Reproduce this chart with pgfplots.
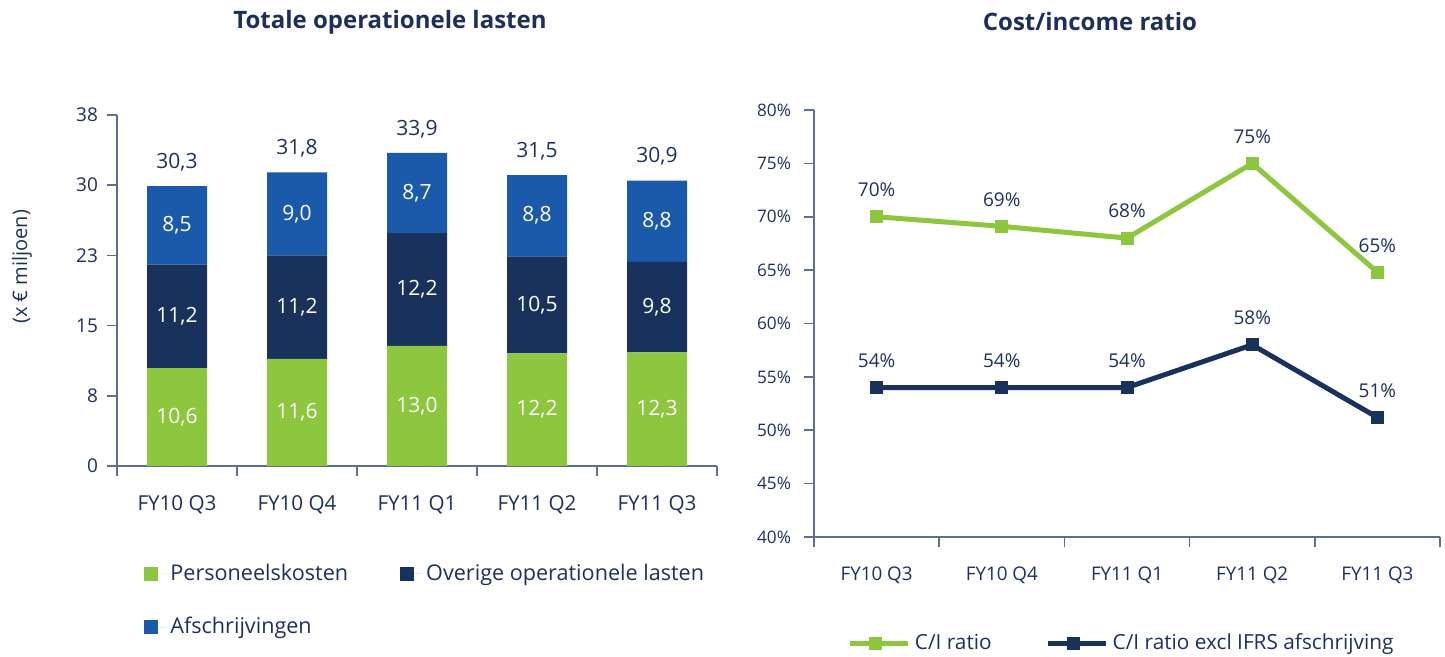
\documentclass[border=0pt]{standalone}
\usepackage{pgfplots}
\pgfplotsset{compat=1.18}
\usepackage{pgfplotstable}
\usepackage{fontspec}
\setmainfont{Open Sans}
\definecolor{cgreen}{RGB}{141,198,63}
\definecolor{cnavy}{RGB}{24,50,92}
\definecolor{cblue}{RGB}{27,90,170}
\definecolor{ctext}{RGB}{30,48,88}
\definecolor{caxis}{RGB}{95,110,140}

\pgfplotstableread{
x p o a tot
0 10.6 11.2 8.5 30.3
1 11.6 11.2 9.0 31.8
2 13.0 12.2 8.7 33.9
3 12.2 10.5 8.8 31.5
4 12.3 9.8 8.8 30.9
}\costs

\pgfplotstableread{
x ci ciex
0 70.0 54.0
1 69.1 54.0
2 68.0 54.0
3 75.0 58.0
4 64.8 51.2
}\ratio

\pgfplotsset{
  base/.style={
    scale only axis, anchor=south west,
    axis lines=left, axis line style={-, draw=caxis, line width=0.8pt},
    xmin=-0.5, xmax=4.5,
    xtick={-0.5,0.5,...,4.5}, xticklabels={},
    extra x ticks={0,1,2,3,4},
    extra x tick labels={FY10 Q3,FY10 Q4,FY11 Q1,FY11 Q2,FY11 Q3},
    extra x tick style={major tick length=0pt},
    tick align=outside, major tick length=5pt,
    tick style={draw=caxis, line width=0.8pt},
    ticklabel style={text=ctext},
    clip=false,
  },
  lab/.style={
    scale only axis, anchor=south west, hide axis,
    xmin=-0.5, xmax=4.5, clip=false,
  },
}

\begin{document}
\begin{tikzpicture}
\useasboundingbox (0,0) rectangle (722.5pt,328.5pt);

% Left chart
\begin{axis}[base,
  at={(58.5pt,95.5pt)}, width=300pt, height=175.5pt,
  ymin=0, ymax=38,
  ytick={0,7.6,15.2,22.8,30.4,38},
  yticklabels={0,8,15,23,30,38},
  yticklabel style={font=\fontsize{9.5}{11}\selectfont, xshift=-1pt},
  xticklabel style={font=\fontsize{10.3}{12}\selectfont, yshift=-11.5pt},
  ybar stacked, bar width=30pt,
  legend columns=2, legend cell align=left,
  legend style={draw=none, fill=none, at={(0.035,-0.255)}, anchor=north west,
    font=\fontsize{10.8}{13}\selectfont, text=ctext, row sep=13pt,
    /tikz/every even column/.append style={column sep=24pt}},
  legend image code/.code={\fill[#1] (0pt,-3.5pt) rectangle (7pt,3.5pt); \path (0pt,0pt) -- (11pt,0pt);},
]
\addplot[fill=cgreen, draw=none] table[x=x, y=p] {\costs};
\addplot[fill=cnavy, draw=none] table[x=x, y=o] {\costs};
\addplot[fill=cblue, draw=none] table[x=x, y=a] {\costs};
\legend{Personeelskosten, Overige operationele lasten, Afschrijvingen}
\end{axis}

\begin{axis}[lab,
  at={(58.5pt,95.5pt)}, width=300pt, height=175.5pt,
  ymin=0, ymax=38,
  nodes near coords={\pgfmathprintnumber[assume math mode=true, use comma, fixed, fixed zerofill, precision=1]{\pgfplotspointmeta}},
  every node near coord/.append style={anchor=center, font=\fontsize{10.5}{12}\selectfont},
]
\addplot[draw=none, mark=none, every node near coord/.append style={text=white}, point meta=\thisrow{p}]
  table[x=x, y expr=\thisrow{p}/2] {\costs};
\addplot[draw=none, mark=none, every node near coord/.append style={text=white}, point meta=\thisrow{o}]
  table[x=x, y expr=\thisrow{p}+\thisrow{o}/2] {\costs};
\addplot[draw=none, mark=none, every node near coord/.append style={text=white}, point meta=\thisrow{a}]
  table[x=x, y expr=\thisrow{p}+\thisrow{o}+\thisrow{a}/2] {\costs};
\addplot[draw=none, mark=none, every node near coord/.append style={text=ctext, yshift=12pt}, point meta=\thisrow{tot}]
  table[x=x, y=tot] {\costs};
\end{axis}

% Right chart
\begin{axis}[base,
  at={(407pt,60pt)}, width=313pt, height=213.5pt,
  ymin=40, ymax=80,
  ytick={40,45,...,80},
  yticklabels={40\%,45\%,50\%,55\%,60\%,65\%,70\%,75\%,80\%},
  yticklabel style={font=\fontsize{8.6}{10}\selectfont, xshift=-3pt},
  xticklabel style={font=\fontsize{9.4}{11}\selectfont, yshift=-11.5pt},
  nodes near coords={\pgfmathprintnumber[assume math mode=true, fixed, precision=0]{\pgfplotspointmeta}\%},
  every node near coord/.append style={anchor=center, yshift=13.5pt, text=ctext, font=\fontsize{9.5}{11}\selectfont},
  legend columns=2, legend cell align=left,
  legend style={draw=none, fill=none, at={(0.044,-0.249)}, anchor=west,
    font=\fontsize{10.4}{12}\selectfont, text=ctext,
    /tikz/every even column/.append style={column sep=25pt}},
  legend image code/.code={\draw[#1, mark repeat=2, mark phase=2] plot coordinates {(0pt,0pt) (12.5pt,0pt) (25pt,0pt)}; \path (0pt,0pt) -- (29pt,0pt);},
]
\addplot[cgreen, line width=2.5pt, mark=square*, mark size=3pt, mark options={line width=0pt}, point meta=y]
  table[x=x, y=ci] {\ratio};
\addplot[cnavy, line width=2.5pt, mark=square*, mark size=3pt, mark options={line width=0pt}, point meta=y]
  table[x=x, y=ciex] {\ratio};
\legend{C/I ratio, C/I ratio excl IFRS afschrijving}
\end{axis}

\node[rotate=90, text=ctext, font=\fontsize{10}{12}\selectfont] at (11pt,195pt) {(x € miljoen)};
\node[text=ctext, font=\fontsize{12}{14}\selectfont\bfseries] at (195pt,317.5pt) {Totale operationele lasten};
\node[text=ctext, font=\fontsize{12}{14}\selectfont\bfseries] at (545pt,317.5pt) {Cost/income ratio};
\end{tikzpicture}
\end{document}
